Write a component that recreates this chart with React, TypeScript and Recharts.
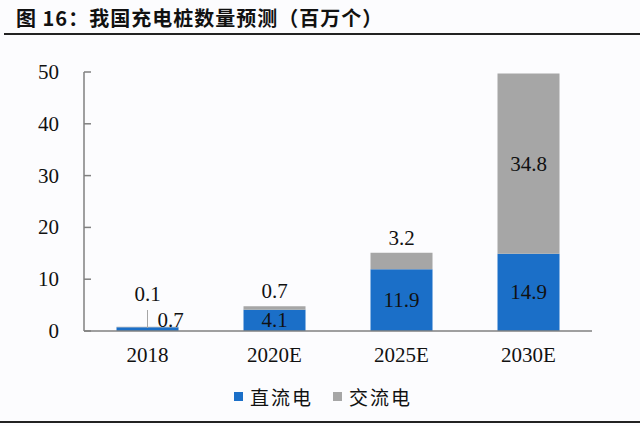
import { Bar, BarChart, LabelList, XAxis, YAxis } from "recharts";

const categories = ["2018", "2020E", "2025E", "2030E"];
const dcValues = [0.7, 4.1, 11.9, 14.9];
const acValues = [0.1, 0.7, 3.2, 34.8];
const yTicks = [0, 10, 20, 30, 40, 50];

const data = categories.map((label, i) => ({ label, dc: dcValues[i], ac: acValues[i] }));

const BLUE = "#1b6fc8";
const GREY = "#a6a6a6";
const numFont = "'Liberation Serif', 'Times New Roman', serif";
const cjkFont = "'Noto Sans CJK SC', sans-serif";

function YTick(props: any) {
  const { x, y, payload } = props;
  return (
    <g>
      <line x1={x + 25} x2={x + 32} y1={y} y2={y} stroke="#808080" strokeWidth={1.5} />
      <text x={x} y={y} dy={7} textAnchor="end" fill="#111" fontSize={21} fontFamily={numFont}>
        {payload.value}
      </text>
    </g>
  );
}

function DcLabel(props: any) {
  const { x, y, width, height, value, index } = props;
  const cx = x + width / 2;
  if (index === 0) {
    const base = y + height;
    return (
      <g>
        <line x1={cx} x2={cx} y1={base - 21} y2={base - 3} stroke="#a6a6a6" strokeWidth={1} />
        <text x={cx + 10} y={base - 11} dy={7} fill="#111" fontSize={21} fontFamily={numFont}>
          {value}
        </text>
      </g>
    );
  }
  return (
    <text x={cx} y={y + height / 2} dy={7} textAnchor="middle" fill="#111" fontSize={21} fontFamily={numFont}>
      {value}
    </text>
  );
}

function AcLabel(props: any) {
  const { x, y, width, height, value, index } = props;
  const cx = x + width / 2;
  let cy = y - 15;
  if (index === 0) cy = y - 33;
  if (index === 3) cy = y + height / 2;
  return (
    <text x={cx} y={cy} dy={7} textAnchor="middle" fill="#111" fontSize={21} fontFamily={numFont}>
      {value}
    </text>
  );
}

function LegendBox() {
  const items = [
    { name: "直流电", color: BLUE },
    { name: "交流电", color: GREY },
  ];
  return (
    <div style={{ position: "absolute", left: 234, top: 383, display: "flex", alignItems: "center", gap: 20 }}>
      {items.map((it) => (
        <div key={it.name} style={{ display: "flex", alignItems: "center" }}>
          <span style={{ width: 9, height: 9, background: it.color, display: "inline-block", marginRight: 7 }} />
          <span style={{ fontFamily: cjkFont, fontSize: 19, color: "#111", letterSpacing: 2 }}>{it.name}</span>
        </div>
      ))}
    </div>
  );
}

export default function App() {
  return (
    <div style={{ position: "relative", width: 640, height: 426, background: "#fcfcfe", overflow: "hidden" }}>
      <style>{"body{margin:0}"}</style>
      <div
        style={{
          position: "absolute",
          left: 16,
          top: 3,
          fontFamily: cjkFont,
          fontWeight: 700,
          fontSize: 20,
          color: "#111",
          letterSpacing: 1,
        }}
      >
        图 16：我国充电桩数量预测（百万个）
      </div>
      <div style={{ position: "absolute", left: 4, right: 0, top: 33, height: 2, background: "#222" }} />
      <div style={{ position: "absolute", left: 0, right: 0, top: 421, height: 2, background: "#222" }} />
      <BarChart
        width={640}
        height={426}
        data={data}
        margin={{ top: 72, right: 48, bottom: 65, left: 0 }}
        barCategoryGap="25.6%"
      >
        <XAxis
          dataKey="label"
          height={30}
          axisLine={{ stroke: "#808080", strokeWidth: 1.5 }}
          tickLine={false}
          tickMargin={10}
          tick={{ fill: "#111", fontSize: 21, fontFamily: numFont }}
        />
        <YAxis
          width={84}
          domain={[0, 50]}
          ticks={yTicks}
          axisLine={{ stroke: "#808080", strokeWidth: 1.5 }}
          tickLine={false}
          tickSize={0}
          tickMargin={25}
          tick={<YTick />}
        />
        <Bar dataKey="dc" name="直流电" stackId="a" fill={BLUE} isAnimationActive={false}>
          <LabelList dataKey="dc" content={<DcLabel />} />
        </Bar>
        <Bar dataKey="ac" name="交流电" stackId="a" fill={GREY} isAnimationActive={false}>
          <LabelList dataKey="ac" content={<AcLabel />} />
        </Bar>
      </BarChart>
      <LegendBox />
    </div>
  );
}
